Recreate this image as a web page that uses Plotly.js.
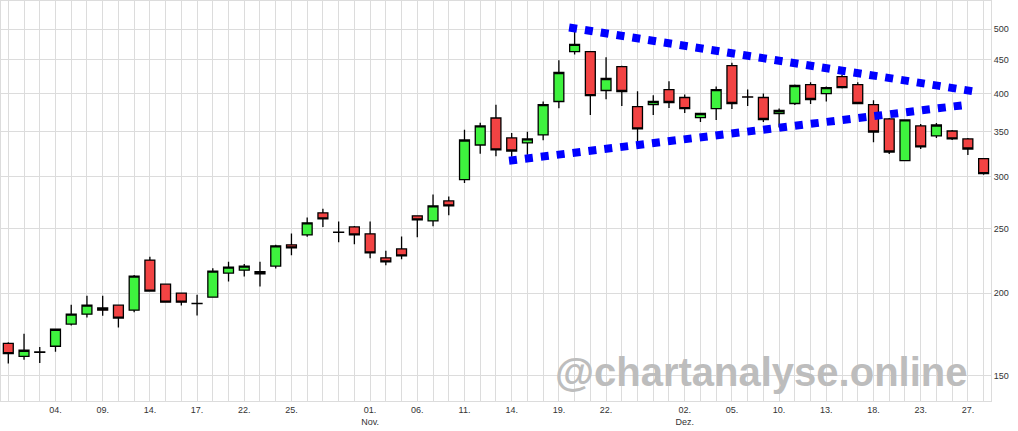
<!DOCTYPE html>
<html>
<head>
<meta charset="utf-8">
<script src="https://cdn.plot.ly/plotly-3.0.1.min.js"></script>
<style>html,body{margin:0;padding:0;background:#fff;}#chart{width:1018px;height:431px;}</style>
</head>
<body>
<div id="chart"></div>
<script>
const dates = [
 "2024-10-01","2024-10-02","2024-10-03","2024-10-04","2024-10-07","2024-10-08","2024-10-09","2024-10-10","2024-10-11",
 "2024-10-14","2024-10-15","2024-10-16","2024-10-17","2024-10-18","2024-10-21","2024-10-22","2024-10-23","2024-10-24",
 "2024-10-25","2024-10-28","2024-10-29","2024-10-30","2024-10-31",
 "2024-11-01","2024-11-04","2024-11-05","2024-11-06","2024-11-07","2024-11-08","2024-11-11","2024-11-12","2024-11-13",
 "2024-11-14","2024-11-15","2024-11-18","2024-11-19","2024-11-20","2024-11-21","2024-11-22","2024-11-25","2024-11-26",
 "2024-11-27","2024-11-29",
 "2024-12-02","2024-12-03","2024-12-04","2024-12-05","2024-12-06","2024-12-09","2024-12-10","2024-12-11","2024-12-12",
 "2024-12-13","2024-12-16","2024-12-17","2024-12-18","2024-12-19","2024-12-20","2024-12-23","2024-12-24","2024-12-26",
 "2024-12-27","2024-12-30"
];
const openP = [168.0,160.6,163.0,166.3,179.6,185.9,190.0,191.8,188.5,224.3,206.3,200.0,193.0,197.2,214.4,216.6,215.4,219.7,236.5,244.8,264.3,247.2,251.7,
 245.7,226.1,233.2,261.6,257.0,275.5,296.6,334.5,367.4,342.8,336.9,346.4,389.1,462.7,462.7,404.2,439.2,382.3,385.0,405.6,
 394.5,368.0,379.7,440.7,395.5,394.5,373.2,386.4,412.7,400.0,424.3,412.7,385.0,366.2,316.8,357.4,345.2,351.2,341.6,319.0];
const highP = [168.6,173.6,165.9,176.6,192.0,198.1,198.1,192.0,212.9,226.9,206.5,200.2,198.8,218.1,223.0,221.2,223.0,236.5,245.9,260.0,268.0,256.4,252.6,
 256.4,231.8,243.4,261.8,281.6,279.7,352.8,361.5,384.8,348.8,350.4,389.1,448.9,496.0,463.0,453.6,440.7,403.2,397.6,417.4,
 398.6,373.5,409.8,445.3,405.6,400.0,379.7,412.7,416.0,409.8,427.3,416.0,390.8,367.4,365.2,359.9,361.1,352.4,342.8,319.2];
const lowP = [156.6,158.7,156.9,163.2,178.7,183.8,184.8,177.5,187.2,201.0,193.5,191.6,185.0,197.0,208.2,211.9,204.6,217.8,228.1,243.2,251.7,238.6,237.0,
 225.7,220.3,224.9,242.8,252.3,262.1,293.1,324.6,321.6,321.2,323.5,340.0,380.1,457.9,371.4,392.2,383.2,338.8,371.4,380.5,
 374.0,362.4,365.0,379.2,383.2,362.4,355.6,384.5,385.8,389.1,407.0,385.8,337.6,324.3,316.5,329.9,342.8,340.4,323.2,301.8];
const closeP = [162.1,164.0,162.8,176.4,185.9,191.8,188.5,183.4,212.2,201.4,193.8,193.8,192.8,215.9,218.9,219.7,213.9,235.7,234.0,255.3,258.8,247.0,244.8,
 230.0,222.9,227.6,257.9,270.8,270.8,340.4,357.4,328.8,327.6,341.6,385.0,430.3,474.5,397.2,421.4,402.8,353.7,389.1,387.7,
 379.7,373.2,405.6,386.4,395.1,365.5,377.1,411.3,391.8,408.4,408.4,386.4,350.0,326.5,364.9,332.3,358.6,341.6,329.9,302.8];

const tickDates = ["2024-10-04","2024-10-09","2024-10-14","2024-10-17","2024-10-22","2024-10-25","2024-11-01","2024-11-06",
 "2024-11-11","2024-11-14","2024-11-19","2024-11-22","2024-12-02","2024-12-05","2024-12-10","2024-12-13","2024-12-18",
 "2024-12-23","2024-12-27"];
const tickLabels = ["04.","09.","14.","17.","22.","25.","01.<br>Nov.","06.","11.","14.","19.","22.","02.<br>Dez.","05.","10.","13.","18.","23.","27."];
const yTicks = [150,200,250,300,350,400,450,500];

// trend lines (x in trading-day index units, y in price)
const trendUpperX = [35.65, 61.39];
const trendUpperY = [503.1, 402.9];
const trendLowerX = [31.83, 60.95];
const trendLowerY = [316.8, 384.7];

const idx = dates.map((d, i) => i);
const tickvals = idx;
const ticktext = dates.map(d => { const k = tickDates.indexOf(d); return k >= 0 ? tickLabels[k] : ""; });

const traces = [
 {
  type: "candlestick", x: idx, open: openP, high: highP, low: lowP, close: closeP,
  increasing: {fillcolor: "#3ef23e", line: {color: "#000", width: 1.3}},
  decreasing: {fillcolor: "#f24343", line: {color: "#000", width: 1.3}},
  whiskerwidth: 0, hoverinfo: "none", showlegend: false
 },
 {type: "scatter", mode: "lines", x: trendUpperX, y: trendUpperY,
  line: {color: "#0000ff", width: 8, dash: "8px,8px"}, hoverinfo: "none", showlegend: false},
 {type: "scatter", mode: "lines", x: trendLowerX, y: trendLowerY,
  line: {color: "#0000ff", width: 8, dash: "8px,8px"}, hoverinfo: "none", showlegend: false}
];

const layout = {
 width: 1018, height: 431,
 margin: {l: 1, r: 27, t: 1, b: 30},
 paper_bgcolor: "#fff", plot_bgcolor: "#fff",
 showlegend: false, boxgap: 0.1,
 font: {family: "Liberation Sans, Arial, sans-serif", size: 9, color: "#333"},
 xaxis: {
  type: "linear", range: [-0.464, 62.47], rangeslider: {visible: false},
  tickmode: "array", tickvals: tickvals, ticktext: ticktext,
  showgrid: true, gridcolor: "#dcdcdc", gridwidth: 1, zeroline: false,
  showline: true, mirror: true, linecolor: "#dcdcdc", linewidth: 1,
  ticks: "", tickfont: {size: 9, color: "#333"}, fixedrange: true
 },
 yaxis: {
  type: "log", side: "right", range: [Math.log10(137.5), Math.log10(551.6)],
  tickmode: "array", tickvals: yTicks, ticktext: yTicks.map(String),
  showgrid: true, gridcolor: "#dcdcdc", gridwidth: 1, zeroline: false,
  showline: true, mirror: true, linecolor: "#dcdcdc", linewidth: 1,
  ticks: "", tickfont: {size: 9, color: "#333"}, fixedrange: true
 },
 shapes: [
  {type: "rect", xref: "paper", yref: "paper", x0: 0.5576, x1: 0.9788, y0: 0.015, y1: 0.135,
   fillcolor: "#fff", line: {width: 0}, layer: "between"}
 ],
 annotations: [
  {xref: "paper", yref: "paper", x: 0.7677, y: 0.0733, xanchor: "center", yanchor: "middle",
   text: "<b>@chartanalyse.online</b>", showarrow: false,
   font: {family: "Liberation Sans, Arial, sans-serif", size: 40, color: "#bdbdbd"}}
 ]
};

Plotly.newPlot("chart", traces, layout, {displayModeBar: false, staticPlot: true});
</script>
</body>
</html>
